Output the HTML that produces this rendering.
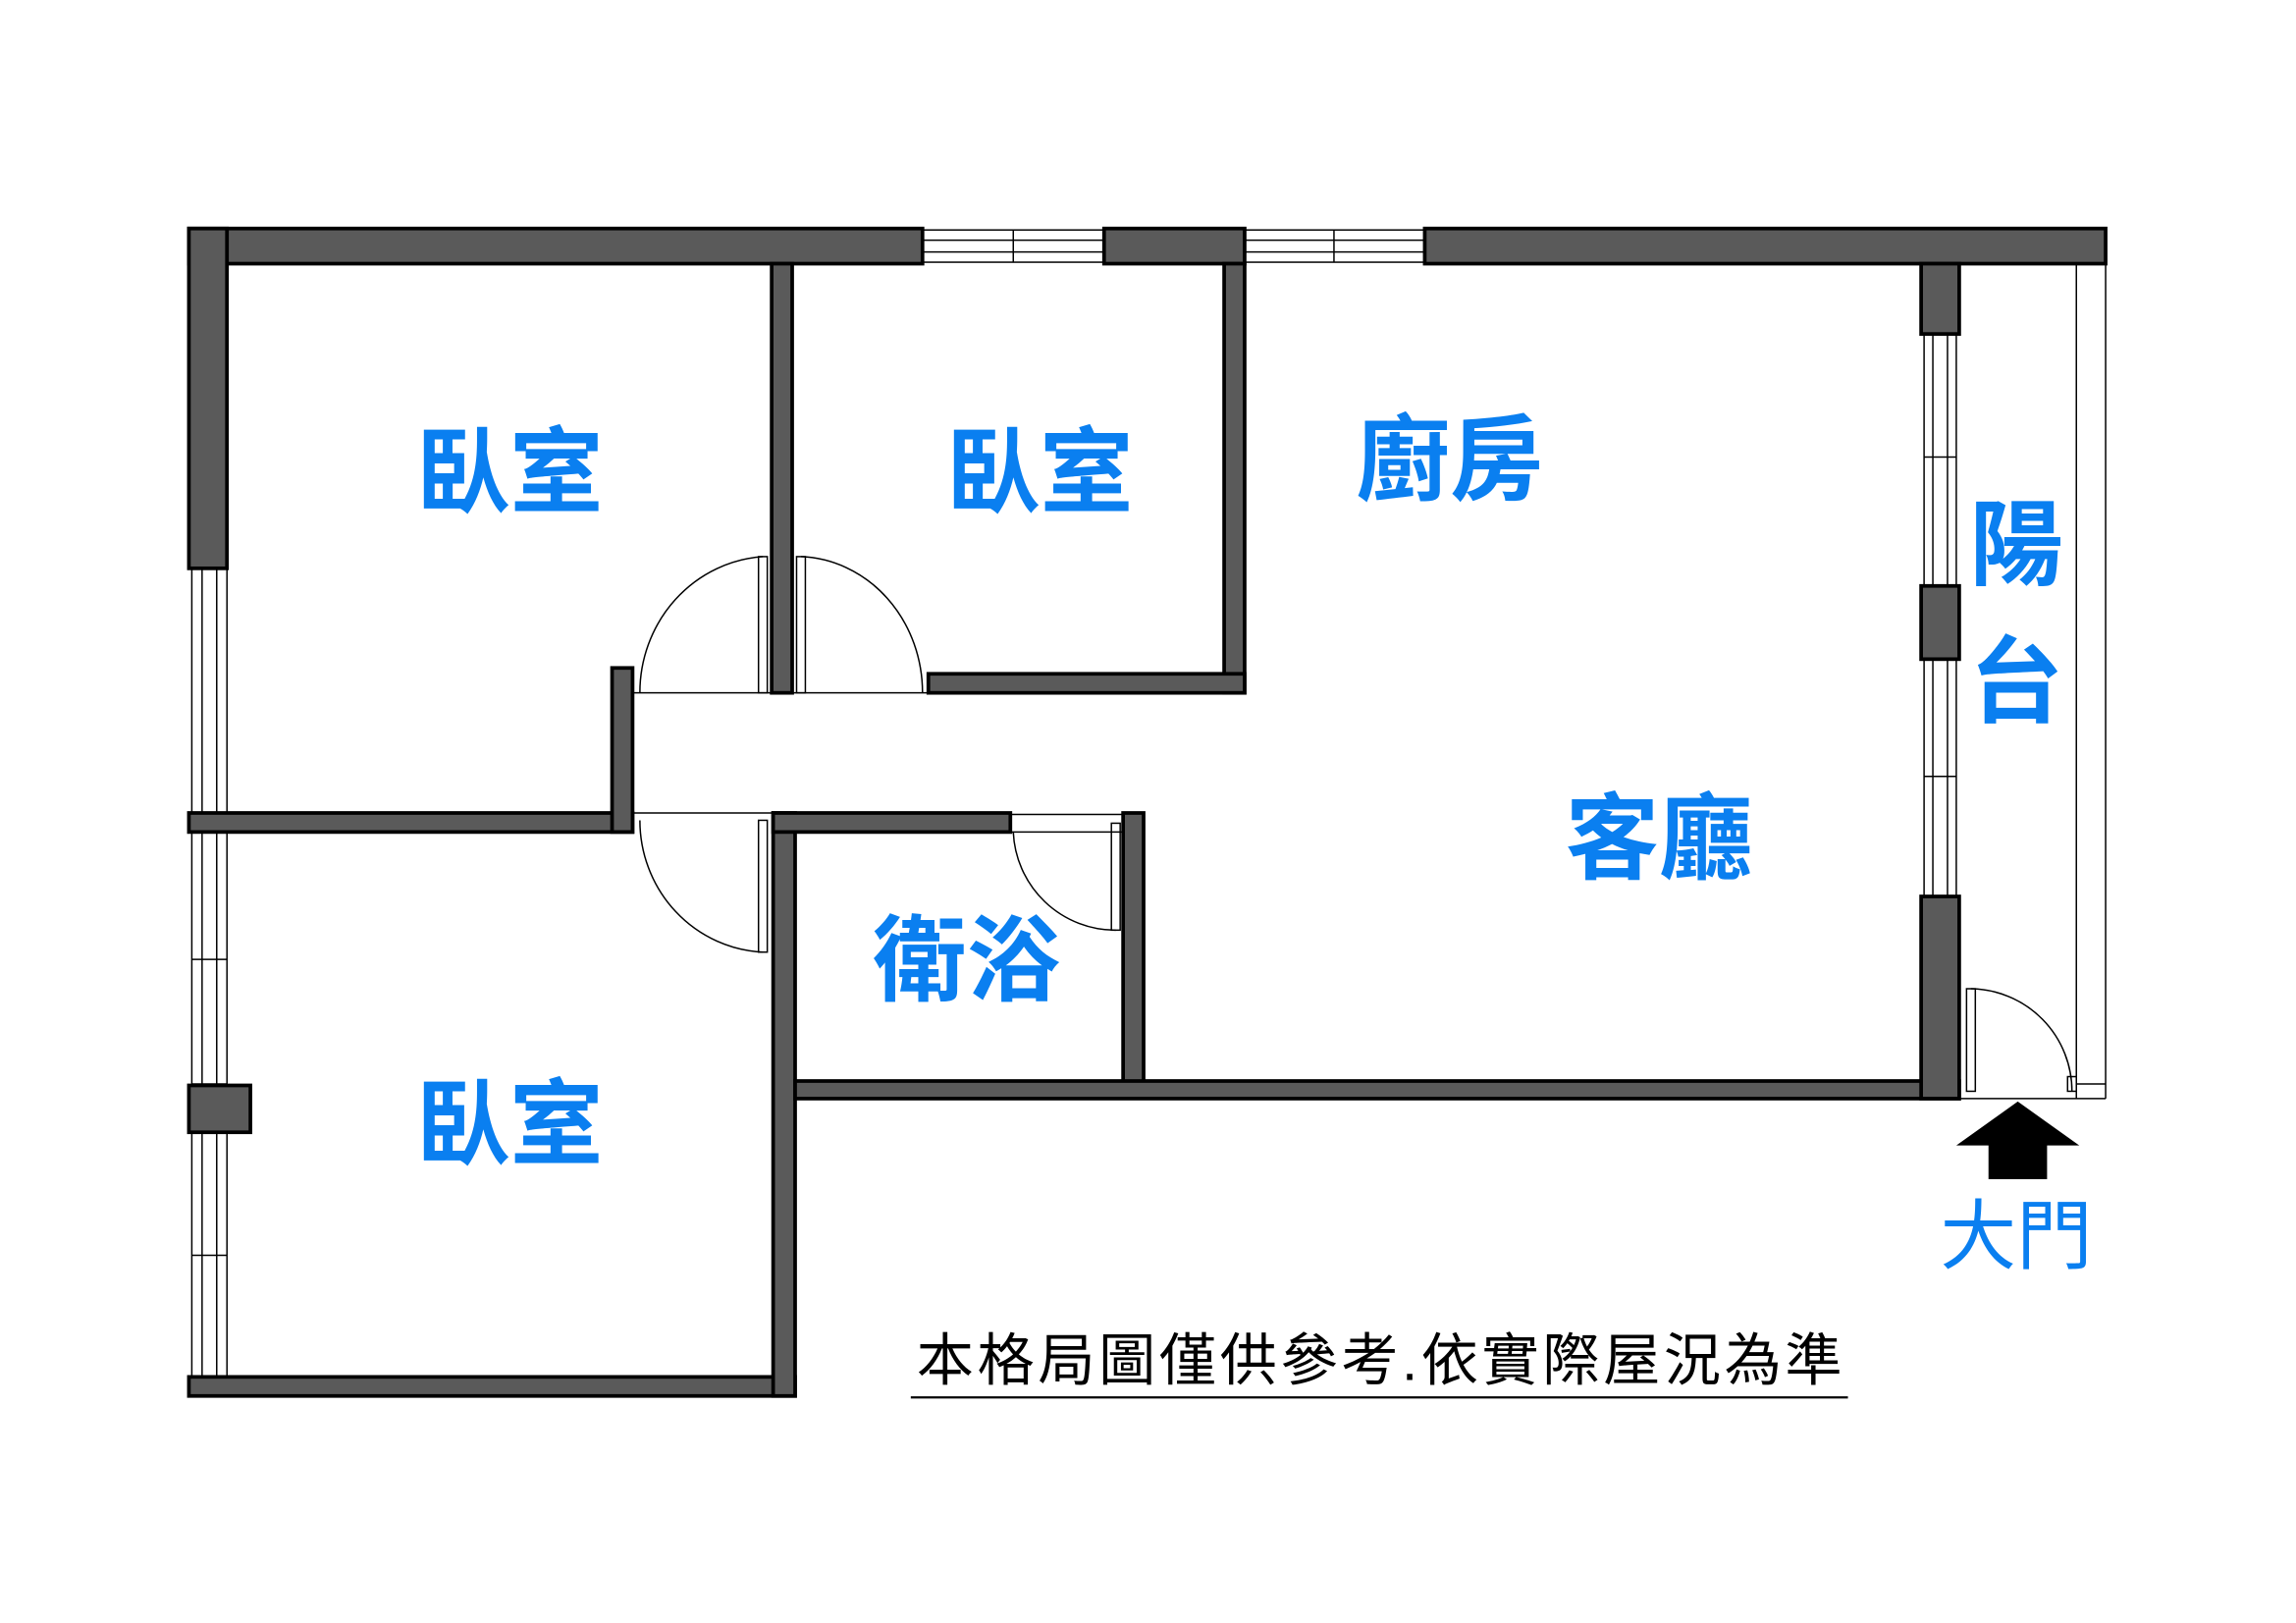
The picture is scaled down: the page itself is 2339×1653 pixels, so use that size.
<!DOCTYPE html>
<html><head><meta charset="utf-8"><style>
html,body{margin:0;padding:0;background:#fff;}
svg{display:block}
.w{fill:#5a5a5a;stroke:#000;stroke-width:2.5}
.t{fill:none;stroke:#000;stroke-width:1}
.l{font-family:"Liberation Sans","Noto Sans CJK TC",sans-serif;font-weight:bold;fill:#0a7ff0;text-anchor:middle}
</style></head><body>
<svg width="2339" height="1653" viewBox="0 0 1568 1108" preserveAspectRatio="none" xmlns="http://www.w3.org/2000/svg">
<rect width="1568" height="1108" fill="#fff"/>
<rect class="w" x="129" y="156" width="501" height="24"/>
<rect class="w" x="754" y="156" width="96" height="24"/>
<rect class="w" x="973" y="156" width="465" height="24"/>
<g class="t"><rect x="630" y="157" width="124" height="22"/><line x1="630" y1="164" x2="754" y2="164"/><line x1="630" y1="172" x2="754" y2="172"/><line x1="692" y1="157" x2="692" y2="179"/>
<rect x="850" y="157" width="123" height="22"/><line x1="850" y1="164" x2="973" y2="164"/><line x1="850" y1="172" x2="973" y2="172"/><line x1="911" y1="157" x2="911" y2="179"/></g>
<rect class="w" x="129" y="156" width="26" height="232"/>
<g class="t"><rect x="131" y="388" width="24" height="167"/><line x1="138" y1="388" x2="138" y2="555"/><line x1="148" y1="388" x2="148" y2="555"/>
<rect x="131" y="568" width="24" height="172"/><line x1="138" y1="568" x2="138" y2="740"/><line x1="148" y1="568" x2="148" y2="740"/><line x1="131" y1="655" x2="155" y2="655"/>
<rect x="131" y="773" width="24" height="167"/><line x1="138" y1="773" x2="138" y2="940"/><line x1="148" y1="773" x2="148" y2="940"/><line x1="131" y1="857" x2="155" y2="857"/></g>
<rect class="w" x="129" y="741" width="42" height="32"/>
<rect class="w" x="129" y="555" width="303" height="13"/>
<rect class="w" x="418" y="456" width="14" height="112"/>
<rect class="w" x="527" y="180" width="14" height="293"/>
<rect class="w" x="836" y="180" width="14" height="293"/>
<rect class="w" x="634" y="460" width="216" height="13"/>
<rect class="w" x="129" y="940" width="414" height="13"/>
<rect class="w" x="528" y="555" width="15" height="398"/>
<rect class="w" x="528" y="555" width="162" height="13"/>
<rect class="w" x="767" y="555" width="14" height="185"/>
<rect class="w" x="543" y="738" width="795" height="12"/>
<rect class="w" x="1312" y="180" width="26" height="48"/>
<rect class="w" x="1312" y="400" width="26" height="50"/>
<rect class="w" x="1312" y="612" width="26" height="138"/>
<g class="t"><rect x="1314" y="228" width="22" height="172"/><line x1="1320" y1="228" x2="1320" y2="400"/><line x1="1330" y1="228" x2="1330" y2="400"/><line x1="1314" y1="312" x2="1336" y2="312"/>
<rect x="1314" y="450" width="22" height="162"/><line x1="1320" y1="450" x2="1320" y2="612"/><line x1="1330" y1="450" x2="1330" y2="612"/><line x1="1314" y1="530" x2="1336" y2="530"/>
<line x1="1418" y1="180" x2="1418" y2="750"/><line x1="1438" y1="180" x2="1438" y2="750"/><line x1="1338" y1="750" x2="1438" y2="750"/><line x1="1418" y1="740" x2="1438" y2="740"/>
<line x1="432" y1="473" x2="634" y2="473"/>
<rect x="518" y="380" width="6" height="93"/><path d="M521 380 A90 93 0 0 0 437 473"/>
<rect x="544" y="380" width="6" height="93"/><path d="M547 380 A86 93 0 0 1 630 473"/>
<line x1="432" y1="555" x2="527" y2="555"/>
<rect x="518" y="560" width="6" height="90"/><path d="M521 650 A88 90 0 0 1 437 560"/>
<rect x="690" y="556" width="77" height="12"/>
<rect x="759" y="562" width="6" height="73"/><path d="M762 635 A70 70 0 0 1 692 568"/>
<rect x="1343" y="675" width="6" height="70"/><path d="M1346 675 A70 70 0 0 1 1415 745"/><rect x="1412" y="735" width="6" height="10"/>
</g>
<polygon points="1378,752 1420,782 1336,782" fill="#000"/>
<rect x="1358" y="781" width="40" height="24" fill="#000"/>
<text class="l" x="348" y="345" font-size="64">臥室</text>
<text class="l" x="710" y="345" font-size="64">臥室</text>
<text class="l" x="990" y="336" font-size="64">廚房</text>
<text class="l" x="1377" y="394" font-size="64">陽</text>
<text class="l" x="1377" y="488" font-size="64">台</text>
<text class="l" x="1133" y="595" font-size="64">客廳</text>
<text class="l" x="660" y="678" font-size="64">衛浴</text>
<text class="l" x="348" y="790" font-size="64">臥室</text>
<text class="l" x="1377" y="862" font-size="52" style="font-weight:normal">大門</text>
<text x="942" y="942" font-size="39" text-anchor="middle" font-family="'Liberation Sans','Noto Sans CJK TC',sans-serif" fill="#000" textLength="632">本格局圖僅供參考.依實際屋況為準</text>
<line x1="622" y1="954" x2="1262" y2="954" stroke="#000" stroke-width="1.5"/>
</svg>
</body></html>
